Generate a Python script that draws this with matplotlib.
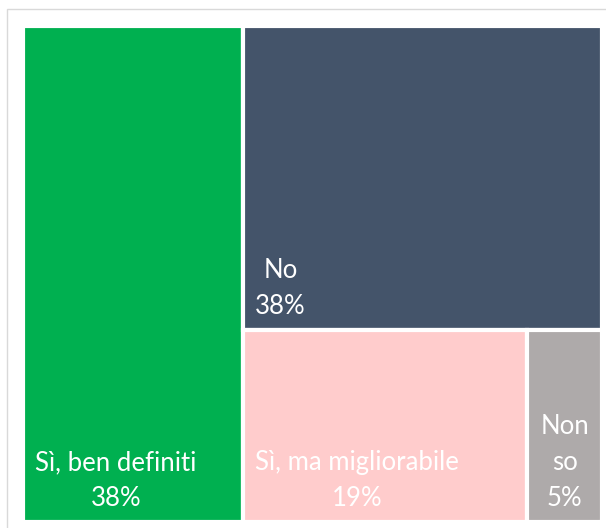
import matplotlib
matplotlib.use("Agg")
import matplotlib.pyplot as plt
from matplotlib.patches import Rectangle

# Survey answers and their shares (%)
labels = ["Sì, ben definiti", "No", "Sì, ma migliorabile", "Non so"]
values = [38, 38, 19, 5]
colors = ["#00B050", "#44546A", "#FFCCCC", "#AEAAAA"]

W, H = 606, 528
fig = plt.figure(figsize=(W / 100, H / 100), dpi=100)
fig.patch.set_facecolor("white")

# light outer frame of the chart area
frame = Rectangle((7 / W, -0.05), 1.2, 1 - 9 / H + 0.05, transform=fig.transFigure,
                  facecolor="none", edgecolor="#D9D9D9", linewidth=1.0)
fig.add_artist(frame)

ax = fig.add_axes([23 / W, 1 - 522 / H, 579 / W, 496 / H])
ax.set_xlim(0, 1)
ax.set_ylim(0, 1)
ax.axis("off")

total = sum(values)
# first cell takes a full-height column on the left
x0 = values[0] / total
rest = total - values[0]
# second cell on top of the right column
h1 = values[1] / rest
# remaining cells share the bottom row
row = values[2] + values[3]
w2 = (1 - x0) * values[2] / row

cells = [
    (0.0, 0.0, x0, 1.0),
    (x0, 1 - h1, 1 - x0, h1),
    (x0, 0.0, w2, 1 - h1),
    (x0 + w2, 0.0, 1 - x0 - w2, 1 - h1),
]

font = dict(family=["Lato", "DejaVu Sans"], size=18.5, color="white")
padx = 12 / 579
pady = 11 / 496

for (x, y, w, h), lab, val, col in zip(cells, labels, values, colors):
    ax.add_patch(Rectangle((x, y), w, h, facecolor=col, edgecolor="white",
                           linewidth=3.0))
    if w < 0.15:
        txt = lab.replace(" ", "\n") + f"\n{val}%"
        ax.text(x + w / 2, y + pady, txt, ha="center", va="bottom",
                multialignment="center", linespacing=1.55, **font)
    else:
        txt = f"{lab}\n{val}%"
        ax.text(x + padx, y + pady, txt, ha="left", va="bottom",
                multialignment="center", linespacing=1.55, **font)

fig.savefig("out.png", dpi=100, facecolor="white")
